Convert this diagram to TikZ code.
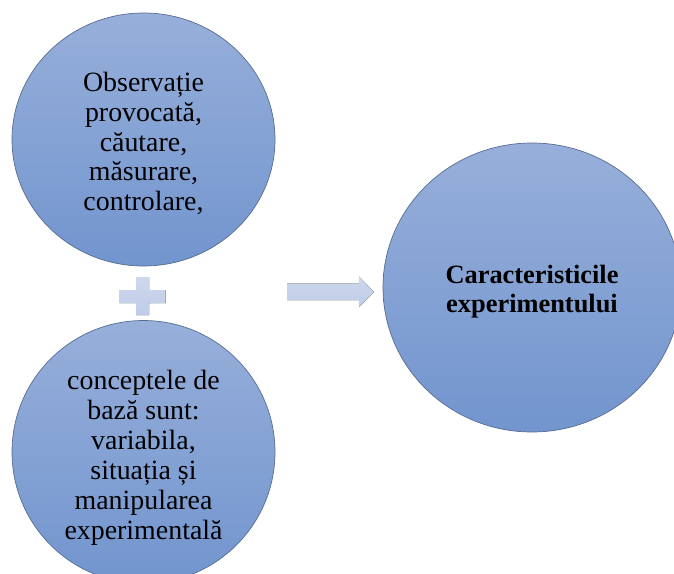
\documentclass[tikz,border=0pt]{standalone}
\usepackage{fontspec}
\setmainfont{Liberation Serif}
\usetikzlibrary{shapes.geometric}
\definecolor{discTop}{RGB}{151,175,218}
\definecolor{discBot}{RGB}{114,149,206}
\definecolor{discEdge}{RGB}{88,108,145}
\definecolor{signTop}{RGB}{206,216,236}
\definecolor{signBot}{RGB}{190,204,232}
\begin{document}
\begin{tikzpicture}[x=1bp,y=-1bp,
  disc/.style={ellipse, draw=discEdge, line width=0.7bp,
    top color=discTop, bottom color=discBot, align=center, inner sep=0pt,
    font=\fontsize{28}{30}\selectfont},
  % an invisible rule taller than the text block moves the lines down in the disc
  drop/.style={execute at begin node={\rule{0pt}{#1}}},
  sign/.style={top color=signTop, bottom color=signBot, draw=none}]
\useasboundingbox (0,0) rectangle (674,574);

% two input discs on the left
\node[disc, drop=147bp, minimum width=263bp, minimum height=253bp] (obs) at (143.5,139.5)
  {Observație\\provocată,\\căutare,\\măsurare,\\controlare,};
\node[disc, drop=180bp, minimum width=263bp, minimum height=253bp] (con) at (143.5,452)
  {conceptele de\\bază sunt:\\variabila,\\situația și\\manipularea\\experimentală};

% result disc on the right
\node[disc, drop=55bp, minimum width=298bp, minimum height=289bp,
  font=\bfseries\fontsize{26.5}{29}\selectfont] (res) at (532,287.5)
  {Caracteristicile\\experimentului};

% plus sign between the two inputs
\coordinate (plus) at (142.5,296);
\fill[sign] ([shift={(-6.5,-19)}]plus) -- ++(13,0) -- ++(0,13) -- ++(16.5,0)
  -- ++(0,13) -- ++(-16.5,0) -- ++(0,12) -- ++(-13,0) -- ++(0,-12)
  -- ++(-16.5,0) -- ++(0,-13) -- ++(16.5,0) -- cycle;

% block arrow pointing to the result
\coordinate (tip) at (374,292);
\fill[sign] ([shift={(-87,-8.5)}]tip) -- ++(72,0) -- ++(0,-7) -- (tip)
  -- ++(-15,15) -- ++(0,-7) -- ++(-72,0) -- cycle;
\end{tikzpicture}
\end{document}
